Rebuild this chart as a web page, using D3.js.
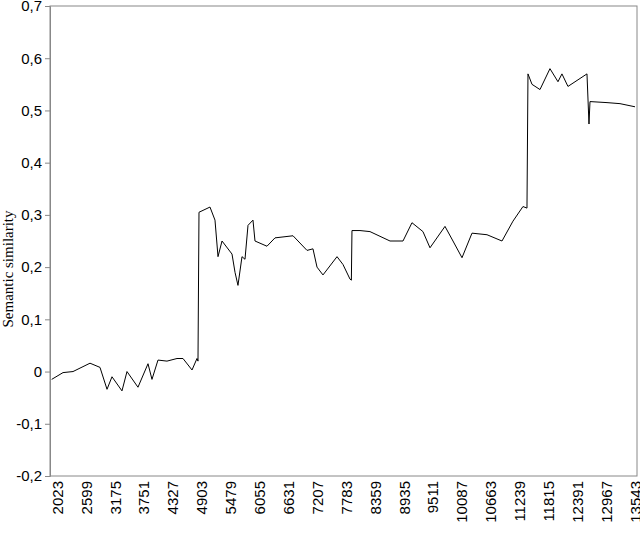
<!DOCTYPE html>
<html><head><meta charset="utf-8">
<script src="https://cdn.jsdelivr.net/npm/d3@7"></script>
<style>body{margin:0;background:#fff}</style></head>
<body><svg id="c" width="640" height="533"></svg>
<script>
const xTicks=[2023,2599,3175,3751,4327,4903,5479,6055,6631,7207,7783,8359,8935,9511,10087,10663,11239,11815,12391,12967,13543];
const yTicks=[-0.2,-0.1,0,0.1,0.2,0.3,0.4,0.5,0.6,0.7];
const seriesX=[1917,2143,2342,2681,2880,3020,3119,3318,3418,3637,3837,3916,4036,4215,4415,4534,4714,4813,4833,4853,5072,5172,5232,5312,5511,5571,5630,5710,5770,5830,5929,5969,6208,6368,6727,7006,7125,7205,7324,7604,7723,7863,7890,7902,8062,8261,8660,8919,9098,9317,9457,9756,9915,10095,10294,10593,10892,11111,11310,11390,11410,11490,11649,11848,12008,12087,12207,12586,12626,12646,12985,13244,13543];
const seriesY=[-0.015,-0.002,0,0.016,0.008,-0.034,-0.01,-0.037,0,-0.03,0.015,-0.015,0.022,0.02,0.025,0.025,0.003,0.025,0.02,0.305,0.315,0.29,0.22,0.25,0.225,0.19,0.165,0.22,0.215,0.28,0.29,0.25,0.24,0.256,0.26,0.232,0.235,0.2,0.185,0.22,0.205,0.177,0.175,0.27,0.27,0.268,0.25,0.25,0.285,0.268,0.237,0.278,0.25,0.218,0.265,0.262,0.25,0.288,0.316,0.313,0.57,0.55,0.54,0.58,0.555,0.57,0.546,0.57,0.474,0.517,0.515,0.513,0.507];
const L=50,R=637,T=6,B=476;
const x=d3.scaleLinear().domain([2023,13543]).range([57,635]);
const xd=[x.invert(L),x.invert(R)];
x.domain(xd).range([L,R]);
const y=d3.scaleLinear().domain([-0.2,0.7]).range([B,T]);
const svg=d3.select("#c");
svg.append("rect").attr("x",L).attr("y",T).attr("width",R-L).attr("height",B-T).attr("fill","none").attr("stroke","#888");
const fmt=d=>d3.format(".1f")(d).replace(".",",").replace("−","-");
const ya=svg.append("g").attr("transform",`translate(${L},0)`).call(d3.axisLeft(y).tickValues(yTicks).tickSize(5).tickFormat(d=>Math.abs(d)<1e-9?"0":fmt(d)));
ya.select(".domain").attr("stroke","#888");
ya.selectAll("line").attr("stroke","#888");
ya.selectAll("text").attr("font-family","Liberation Sans, Arial").attr("font-size",15).attr("fill","#000");
const xa=svg.append("g").attr("transform",`translate(0,${B})`).call(d3.axisBottom(x).tickValues(xTicks).tickSize(0).tickFormat(d=>d));
xa.select(".domain").remove();
xa.selectAll("text").attr("font-family","Liberation Sans, Arial").attr("font-size",15).attr("fill","#000")
 .attr("transform","rotate(-90)").attr("text-anchor","end").attr("x",-5).attr("y",0).attr("dy","0.35em");
svg.append("text").attr("transform",`translate(13,${(T+B)/2+28}) rotate(-90)`).attr("text-anchor","middle")
 .attr("font-family","Liberation Serif, Times New Roman").attr("font-size",15).text("Semantic similarity");
const pts=seriesX.map((v,i)=>[v,seriesY[i]]);
svg.append("path").datum(pts).attr("fill","none").attr("stroke","#000").attr("stroke-width",1)
 .attr("d",d3.line().x(d=>x(d[0])).y(d=>y(d[1])));
</script></body></html>
